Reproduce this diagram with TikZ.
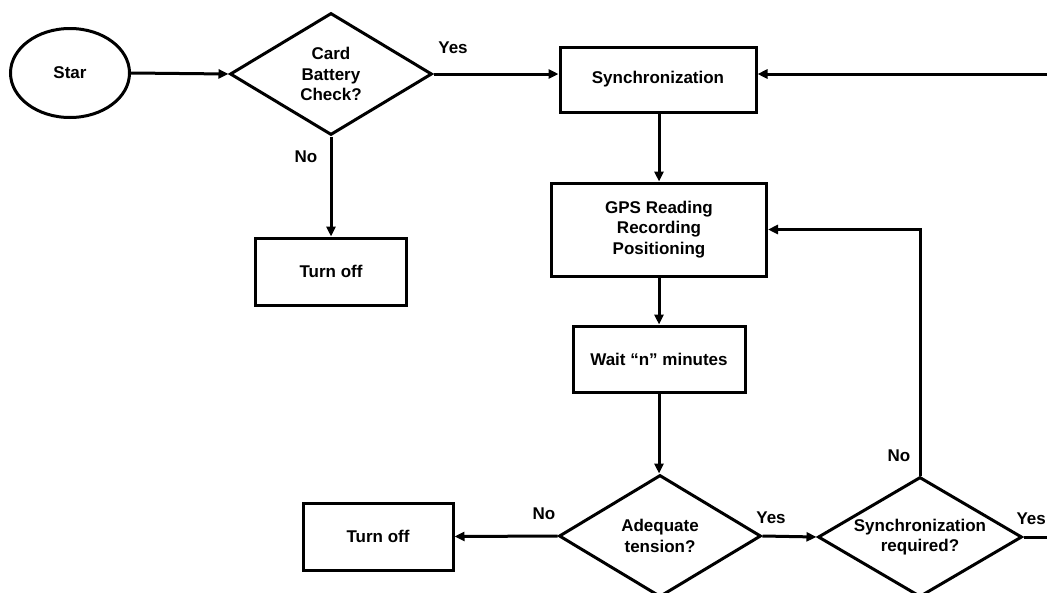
\documentclass[tikz,border=0pt]{standalone}
\usepackage{fontspec}
\setmainfont{Liberation Sans}
\usetikzlibrary{shapes.geometric,arrows.meta}
\tikzset{
  every node/.style={font=\fontsize{17}{20.5}\selectfont\bfseries},
  box/.style={draw,line width=3pt,rectangle,inner sep=0pt,align=center},
  decision/.style={draw,line width=3pt,diamond,inner sep=0pt,align=center,aspect=1.66},
  startshape/.style={draw,line width=3pt,ellipse,inner sep=0pt},
  conn/.style={line width=3pt,-{Triangle[length=10pt,width=9pt]}},
  plain/.style={line width=3pt},
  lbl/.style={inner sep=0pt}
}
\begin{document}
\begin{tikzpicture}[x=1pt,y=-1pt]
\useasboundingbox (0,0) rectangle (1047,592);
\clip (0,0) rectangle (1047,592);
\fill[white] (0,0) rectangle (1047,592);

\node[startshape,minimum width=119pt,minimum height=89pt] (star) at (70,73) {Star};
\node[decision,minimum width=202pt,minimum height=122pt] (card) at (331,74) {Card\\Battery\\Check?};
\node[box,minimum width=196pt,minimum height=65pt] (sync) at (658,79.5) {Synchronization};
\node[box,minimum width=215pt,minimum height=93pt] (gps) at (659,229.5) {GPS Reading\\Recording\\Positioning};
\node[box,minimum width=151pt,minimum height=67pt] (toff1) at (331,271.5) {Turn off};
\node[box,minimum width=172pt,minimum height=66pt] (wait) at (659,359) {Wait “n” minutes};
\node[decision,minimum width=202pt,minimum height=122pt] (adeq) at (660,536) {Adequate\\tension?};
\node[box,minimum width=150pt,minimum height=67pt] (toff2) at (378,536.5) {Turn off};
\node[decision,minimum width=204pt,minimum height=120pt,aspect=1.7] (sreq) at (920,537) {Synchronization\\required?};

\coordinate (rin) at (1060,74);
\coordinate (rout) at (1060,537);

\draw[conn] (star.east) -- (card.west);
\draw[conn] (card.east) -- (card.east -| sync.west);
\draw[conn] (rin) -- (rin -| sync.east);
\draw[conn] (card.south) -- (toff1.north);
\draw[conn] (sync.south -| gps.north) -- (gps.north);
\draw[conn] (gps.south) -- (wait.north);
\draw[conn] (wait.south) -- (wait.south |- adeq.north);
\draw[conn] (adeq.west) -- (toff2.east);
\draw[conn] (adeq.east) -- (sreq.west);
\draw[conn] (sreq.north) |- (gps.east);
\draw[plain] (sreq.east) -- (rout);

\node[lbl] (yes1) at (453,48) {Yes};
\node[lbl] (no1) at (306,157) {No};
\node[lbl] (no2) at (544,514) {No};
\node[lbl] (yes2) at (771,518) {Yes};
\node[lbl] (no3) at (899,456) {No};
\node[lbl,anchor=east] (yes3) at (1046,519) {Yes};
\end{tikzpicture}
\end{document}
